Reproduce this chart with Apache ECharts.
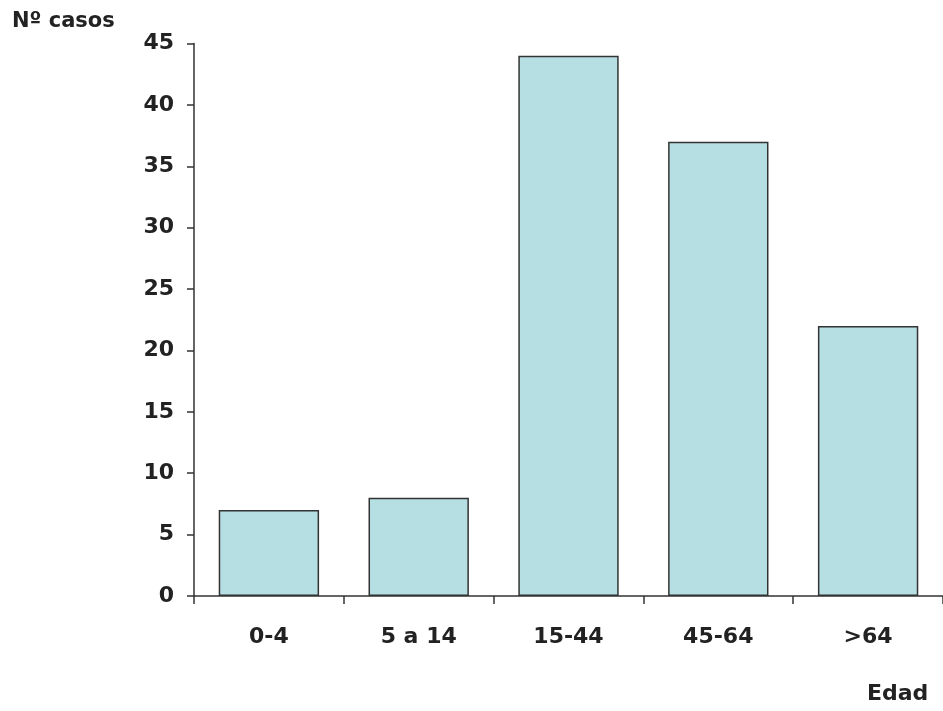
<!DOCTYPE html>
<html>
<head>
<meta charset="utf-8">
<script src="https://cdn.jsdelivr.net/npm/echarts@6/dist/echarts.min.js"></script>
<style>
  html, body { margin: 0; padding: 0; background: #fff; }
  #chart { width: 943px; height: 711px; }
</style>
</head>
<body>
<div id="chart"></div>
<script>
// age groups and number of cases
const ageGroups = ['0-4', '5 a 14', '15-44', '45-64', '>64'];
const cases = [7, 8, 44, 37, 22];
const yTicks = { min: 0, max: 45, interval: 5 };

const chart = echarts.init(document.getElementById('chart'));

const fam = 'DejaVu Sans, sans-serif';
const ink = '#222';

chart.setOption({
  animation: false,
  backgroundColor: '#fff',
  grid: { left: 194, width: 754, top: 43.5, bottom: 115 },
  graphic: [
    { type: 'text', left: 12, top: 11, style: { text: 'Nº casos', fontSize: 21, fill: ink, fontFamily: fam, fontWeight: 'bold' } },
    { type: 'text', left: 867, top: 683, style: { text: 'Edad', fontSize: 22, fill: ink, fontFamily: fam, fontWeight: 'bold' } }
  ],
  xAxis: {
    type: 'category',
    data: ageGroups,
    axisLine: { lineStyle: { color: '#333', width: 1.5 } },
    axisTick: { show: true, length: 8, lineStyle: { color: '#333', width: 1.5 } },
    axisLabel: { fontSize: 22, margin: 30, fontFamily: fam, fontWeight: 'bold', color: ink }
  },
  yAxis: {
    type: 'value',
    min: yTicks.min,
    max: yTicks.max,
    interval: yTicks.interval,
    splitLine: { show: false },
    axisLine: { show: true, lineStyle: { color: '#333', width: 1.5 } },
    axisTick: { show: true, length: 7, lineStyle: { color: '#333', width: 1.5 } },
    axisLabel: { fontSize: 22, margin: 20, fontFamily: fam, fontWeight: 'bold', color: ink }
  },
  series: [{
    type: 'bar',
    data: cases,
    barCategoryGap: '33%',
    itemStyle: { color: '#b5dfe2', borderColor: '#333', borderWidth: 1.5 }
  }]
});
</script>
</body>
</html>
